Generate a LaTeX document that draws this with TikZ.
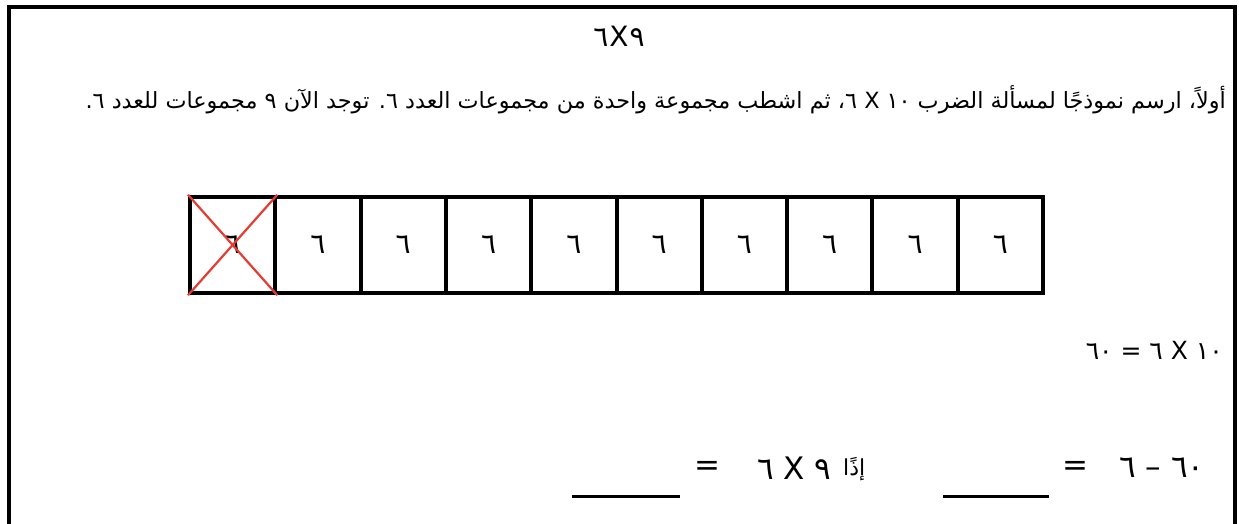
\documentclass[tikz,border=0pt]{standalone}
\usepackage{fontspec}
\usepackage{graphicx}
\TeXXeTstate=1
\newfontfamily\arabicfont[Script=Arabic]{DejaVu Sans}
\tikzset{
  cellbox/.style={draw, line width=4pt, minimum width=85.3pt, minimum height=96pt, inner sep=0pt, outer sep=0pt, font=\arabicfont\fontsize{28}{30}\selectfont},
  redx/.style={draw={rgb,255:red,228;green,60;blue,50}, line width=2.2pt, shorten <=-3pt, shorten >=-3pt},
  blankline/.style={line width=3pt},
  mathtxt/.style={inner sep=0pt, font=\arabicfont\fontsize{31}{33}\selectfont},
}
\begin{document}
\begin{tikzpicture}[x=1pt,y=-1pt]
\useasboundingbox (0,0) rectangle (1239,524);
\fill[white] (0,0) rectangle (1239,524);
\draw[line width=4pt] (9,524) -- (9,7) -- (1235,7) -- (1235,524);

\node[inner sep=0pt, font=\arabicfont\fontsize{28}{30}\selectfont] (title) at (619,36) {\beginR ٩\kern1pt X\kern1pt ٦\endR};

\node[inner sep=0pt, anchor=east] (instr) at (1226,100) {\resizebox{1140pt}{!}{\arabicfont\beginR أولاً، ارسم نموذجًا لمسألة الضرب ١٠ X ٦، ثم اشطب مجموعة واحدة من مجموعات العدد ٦. توجد الآن ٩ مجموعات للعدد ٦.\endR}};

\foreach \i in {1,...,10} {
  \node[cellbox] (c\i) at ({190+85.3*(\i-1)+42.65},245) {٦};
}
\draw[redx] (c1.north west) -- (c1.south east);
\draw[redx] (c1.south west) -- (c1.north east);

\node[mathtxt, anchor=east, font=\arabicfont\fontsize{25}{27}\selectfont] (eqa) at (1223,350) {\beginR ١٠ X ٦ = ٦٠\endR};

\coordinate (b1s) at (943,496);
\coordinate (b1e) at (1049,496);
\draw[blankline] (b1s) -- (b1e);
\node[mathtxt] (eqr1) at (1075,468) {=};
\node[mathtxt, anchor=west] (eqr2) at (1119,468) {\beginR ٦٠ – ٦\endR};

\coordinate (b2s) at (572,496);
\coordinate (b2e) at (680,496);
\draw[blankline] (b2s) -- (b2e);
\node[mathtxt] (eql1) at (707,468) {=};
\node[mathtxt, anchor=west] (eql2) at (757,468) {\beginR ٩ X ٦\endR};
\node[mathtxt, anchor=west, font=\arabicfont\fontsize{22}{24}\selectfont] (eql3) at (843,469) {\beginR إذًا\endR};
\end{tikzpicture}
\end{document}
